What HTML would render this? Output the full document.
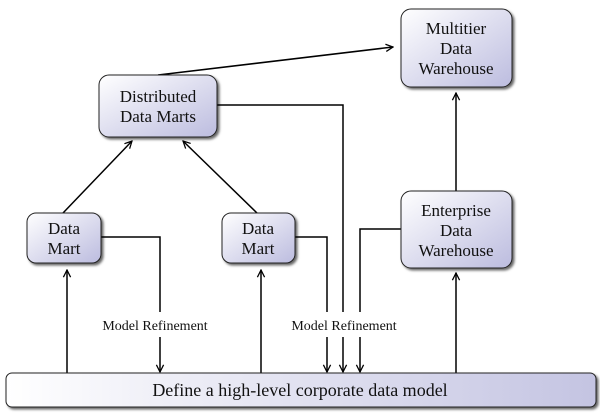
<!DOCTYPE html>
<html><head><style>
body{margin:0;background:#fff;width:600px;height:414px;overflow:hidden;font-family:"Liberation Serif",serif;}
svg{position:absolute;left:0;top:0}
</style></head><body>
<svg width="600" height="414" viewBox="0 0 600 414">
<defs>
<linearGradient id="g" x1="0" y1="0" x2="1" y2="1">
<stop offset="0" stop-color="#ffffff"/><stop offset="1" stop-color="#bcbcdf"/>
</linearGradient>
<linearGradient id="gb" x1="0" y1="0" x2="1" y2="0">
<stop offset="0" stop-color="#ffffff"/><stop offset="1" stop-color="#c4c4e2"/>
</linearGradient>
<filter id="s" x="-10%" y="-10%" width="130%" height="130%"><feDropShadow dx="2" dy="2" stdDeviation="1.2" flood-color="#000" flood-opacity="0.6"/></filter>
<marker id="a" viewBox="0 0 10 10" refX="9" refY="5" markerWidth="9" markerHeight="9" orient="auto" markerUnits="userSpaceOnUse"><path d="M1,1 L9,5 L1,9" fill="none" stroke="#000" stroke-width="1.4"/></marker>
</defs>
<g stroke="#000" stroke-width="1.5" fill="none">
<line x1="158" y1="75" x2="393" y2="47" marker-end="url(#a)"/>
<line x1="63" y1="213" x2="132" y2="141" marker-end="url(#a)"/>
<line x1="257" y1="213" x2="183" y2="141" marker-end="url(#a)"/>
<polyline points="101,237 160,237 160,312"/><line x1="160" y1="337" x2="160" y2="372" marker-end="url(#a)"/>
<polyline points="295,237 327,237 327,312"/><line x1="327" y1="337" x2="327" y2="372" marker-end="url(#a)"/>
<polyline points="217,105 343,105 343,312"/><line x1="343" y1="337" x2="343" y2="372" marker-end="url(#a)"/>
<polyline points="401,229 360,229 360,312"/><line x1="360" y1="337" x2="360" y2="372" marker-end="url(#a)"/>
<line x1="67" y1="373" x2="67" y2="270" marker-end="url(#a)"/>
<line x1="261" y1="373" x2="261" y2="270" marker-end="url(#a)"/>
<line x1="456" y1="373" x2="456" y2="273" marker-end="url(#a)"/>
<line x1="456" y1="191" x2="456" y2="93" marker-end="url(#a)"/>
</g>
<g stroke="#222" stroke-width="1" filter="url(#s)">
<rect x="401" y="9" width="111" height="78" rx="10" fill="url(#g)"/>
<rect x="99" y="75" width="118" height="62" rx="10" fill="url(#g)"/>
<rect x="27" y="213" width="74" height="50" rx="9" fill="url(#g)"/>
<rect x="222" y="213" width="73" height="50" rx="9" fill="url(#g)"/>
<rect x="401" y="191" width="111" height="77" rx="10" fill="url(#g)"/>
<rect x="6" y="373" width="590" height="34" rx="6" fill="url(#gb)"/>
</g>
<g font-family="Liberation Serif, serif" font-size="17" text-anchor="middle" fill="#111">
<text x="456" y="34">Multitier</text><text x="456" y="54">Data</text><text x="456" y="74">Warehouse</text>
<text x="158" y="102">Distributed</text><text x="158" y="122">Data Marts</text>
<text x="64" y="234">Data</text><text x="64" y="254">Mart</text>
<text x="258" y="234">Data</text><text x="258" y="254">Mart</text>
<text x="456" y="216">Enterprise</text><text x="456" y="236">Data</text><text x="456" y="256">Warehouse</text>
<text x="300" y="396" font-size="18">Define a high-level corporate data model</text>
<text x="155" y="330" font-size="14">Model Refinement</text>
<text x="344" y="330" font-size="14">Model Refinement</text>
</g>
</svg>
</body></html>
